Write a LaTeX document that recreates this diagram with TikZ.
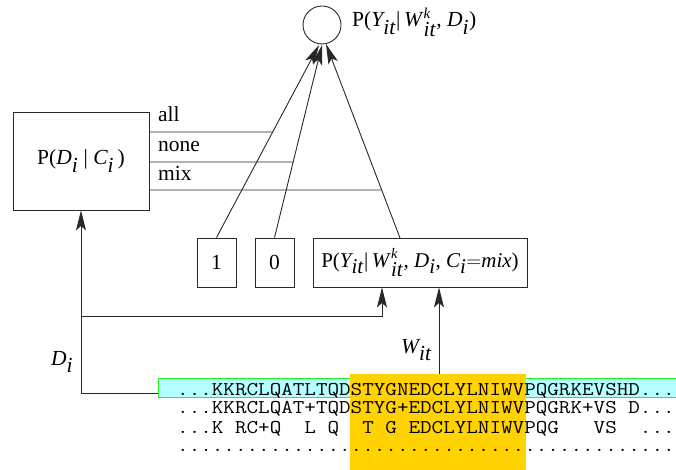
\documentclass[tikz,border=0pt]{standalone}
\usepackage{amsmath}
\usepackage{fontspec}
\setmainfont{Liberation Serif}
\usetikzlibrary{arrows.meta}
\DeclareMathSizes{21.5}{21.5}{15}{11}
\DeclareMathSizes{21}{21}{14.5}{11}
\definecolor{seqcyan}{RGB}{180,255,255}
\definecolor{seqgreen}{RGB}{40,240,40}
\definecolor{motif}{RGB}{255,210,0}
\definecolor{ink}{RGB}{40,40,40}
\newcommand\tv[1]{\textit{#1}}
\newcommand\lo[1]{\raisebox{-2pt}{#1}}
\newcommand\seqrow[1]{\scalebox{1.152}[1]{#1}}
\tikzset{
  lbl/.style={font=\fontsize{21.5}{24}\selectfont, inner sep=0pt},
  box/.style={draw=ink, line width=0.9pt, inner sep=0pt, font=\fontsize{21.5}{24}\selectfont},
  wire/.style={draw=ink, line width=0.9pt},
  arr/.style={wire, -{Stealth[length=20pt,width=10pt,inset=4.5pt]}},
  seqtxt/.style={font=\ttfamily\fontsize{19.5}{20}\selectfont, inner sep=0pt, anchor=base west}
}
\begin{document}
\begin{tikzpicture}[x=1pt,y=-1pt]
\useasboundingbox (0,0) rectangle (676,470);

% sequence alignment background
\fill[seqcyan, draw=seqgreen, line width=1pt] (158,378) rectangle (690,397);
\fill[motif] (350,374) rectangle (526,475);
\node[seqtxt] (s1) at (177,395) {\seqrow{...KKRCLQATLTQDSTYGNEDCLYLNIWVPQGRKEVSHD...}};
\node[seqtxt] (s2) at (177,413) {\seqrow{...KKRCLQAT+TQDSTYG+EDCLYLNIWVPQGRK+VS~D...}};
\node[seqtxt] (s3) at (177,433) {\seqrow{...K~RC+Q~~L~Q~~T~G~EDCLYLNIWVPQG~~~VS~~...}};
\node[seqtxt] (s4) at (177,451) {\seqrow{...........................................}};
\coordinate (seqleft) at (158,393);
\coordinate (motiftop) at (439,374);

% output node
\node[draw=ink, line width=0.9pt, circle, minimum size=38pt, inner sep=0pt] (circ) at (322,25) {};
\node[lbl, anchor=base west] (ylab) at (352,27)
  {P($\tv{Y}_{\lo{\tv{it}}}$|\,$\tv{W\/}^{\tv{k}}_{\lo{\tv{it}}}$, $\tv{D}_{\lo{\tv{i}}}$)};

% class box
\node[box, minimum width=136pt, minimum height=98pt] (cbox) at (81,161)
  {P($\tv{D}_{\lo{\tv{i}}}$ | $\tv{C}_{\lo{\tv{i}}}$\,)};

% component boxes
\node[box, minimum width=39pt, minimum height=49pt] (b1) at (216.5,262.5) {1};
\node[box, minimum width=39pt, minimum height=49pt] (b0) at (274.5,262.5) {0};
\node[box, minimum width=214pt, minimum height=49pt, font=\fontsize{21}{24}\selectfont] (bm) at (420,262.5)
  {P($\tv{Y}_{\lo{\tv{it}}}$|\,$\tv{W\/}^{\tv{k}}_{\lo{\tv{it}}}$, $\tv{D}_{\lo{\tv{i}}}$, $\tv{C}_{\lo{\tv{i}}}$$=$\textit{mix})};
\coordinate (bmtop) at (400,238);

% arrows into the output node
\coordinate (t1) at (319,45);
\coordinate (t0) at (322,45);
\coordinate (tm) at (326,44);
\draw[arr] (b1.north) -- (t1);
\draw[arr] (b0.north) -- (t0);
\draw[arr] (bmtop) -- (tm);

% class selector lines
\draw[wire] (cbox.east |- 0,132) -- (intersection of b1.north--t1 and 0,132--600,132);
\draw[wire] (cbox.east |- 0,162) -- (intersection of b0.north--t0 and 0,162--600,162);
\draw[wire] (cbox.east |- 0,190) -- (intersection of bmtop--tm and 0,190--600,190);
\node[lbl, anchor=base west] (lall) at (158,122) {all};
\node[lbl, anchor=base west] (lnone) at (158,152) {none};
\node[lbl, anchor=base west] (lmix) at (158,181) {mix};

% feeds from the sequence
\coordinate (dc) at (81,393);
\coordinate (dj) at (81,316);
\coordinate (dj2) at (382,316);
\draw[arr] (seqleft) -- (dc) -- (cbox.south);
\draw[arr] (dj) -- (dj2) -- (dj2 |- bm.south);
\draw[arr] (motiftop) -- (motiftop |- bm.south);
\node[lbl, anchor=base west] (dlab) at (51,365) {$\tv{D}_{\lo{\tv{i}}}$};
\node[lbl, anchor=base west] (wlab) at (401,353) {$\tv{W}_{\lo{\tv{it}}}$};
\end{tikzpicture}
\end{document}
